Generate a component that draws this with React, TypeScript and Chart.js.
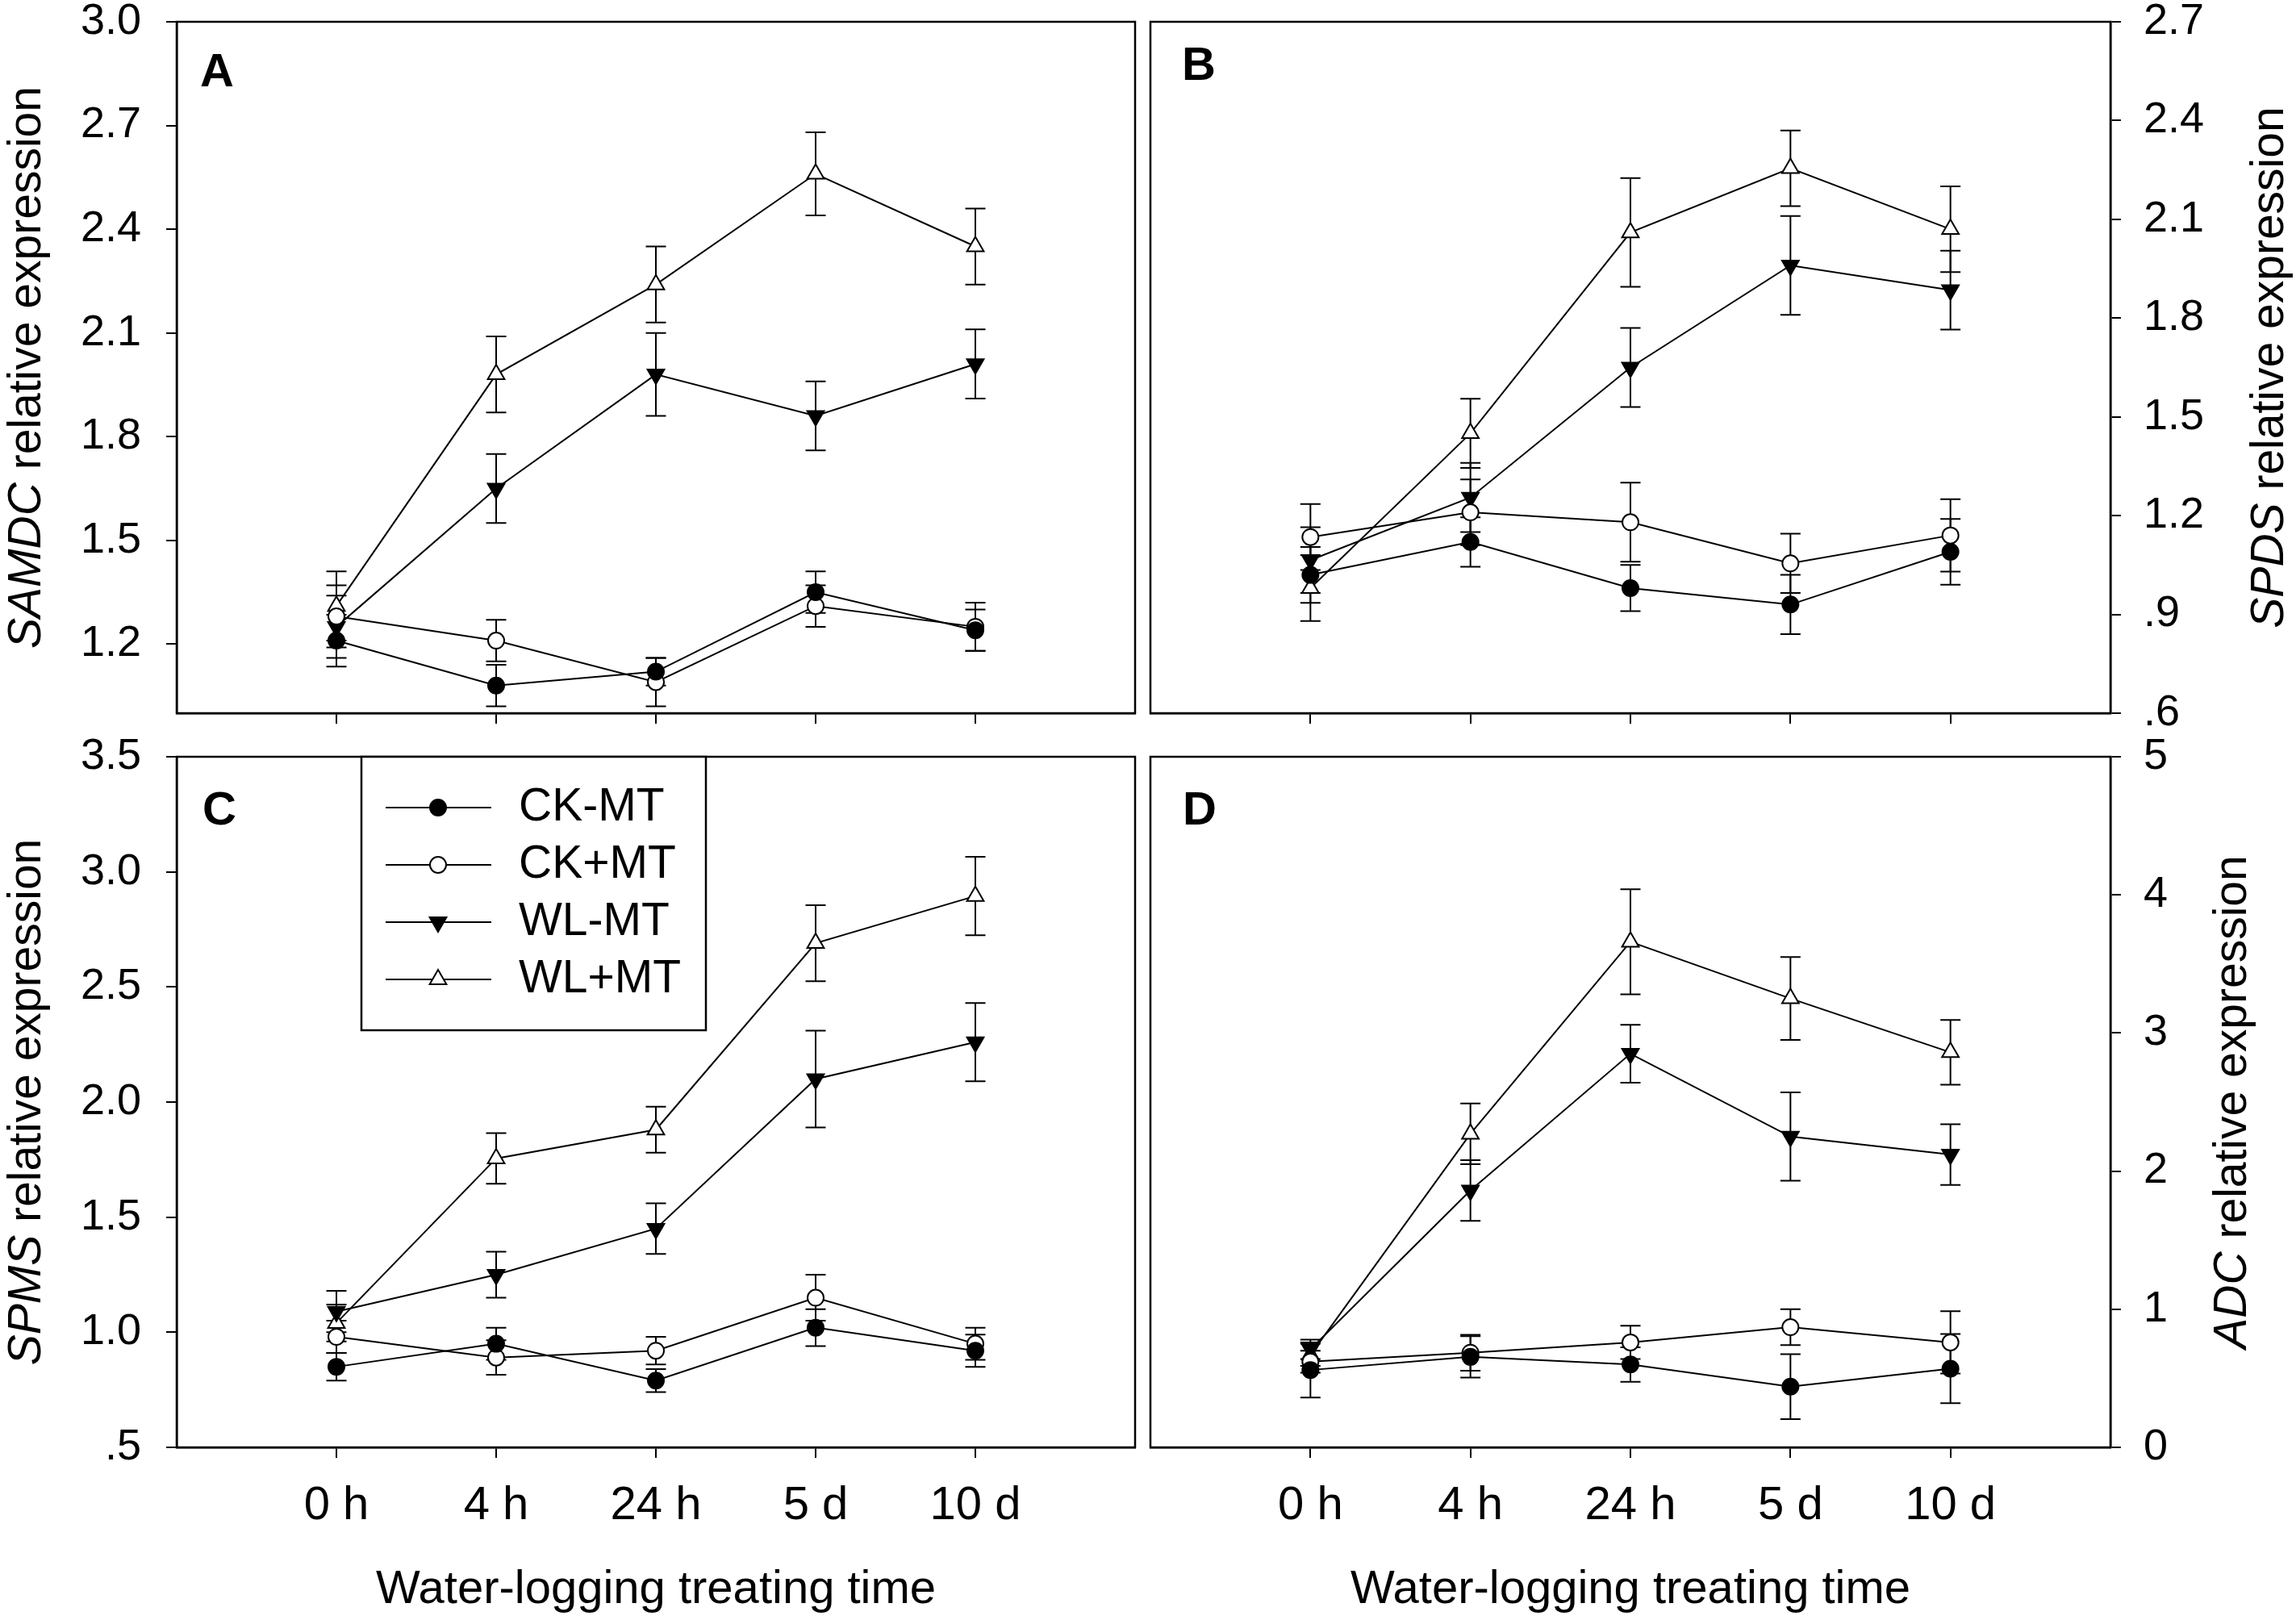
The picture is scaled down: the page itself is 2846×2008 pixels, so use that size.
import React, { useEffect, useRef } from 'react';
import { Chart, registerables } from 'chart.js';
import { drawPoint } from 'chart.js/helpers';

Chart.register(...registerables);

const FONT = '"Liberation Sans", Arial, sans-serif';

const timeLabels = ['0 h', '4 h', '24 h', '5 d', '10 d'];
const seriesNames = ['CK-MT', 'CK+MT', 'WL-MT', 'WL+MT'];

// rows follow seriesNames
const samdcMean = [
  [1.21, 1.08, 1.12, 1.35, 1.24],
  [1.28, 1.21, 1.09, 1.31, 1.25],
  [1.25, 1.65, 1.98, 1.86, 2.01],
  [1.31, 1.98, 2.24, 2.56, 2.35],
];
const samdcErr = [
  [0.075, 0.06, 0.04, 0.06, 0.06],
  [0.09, 0.06, 0.07, 0.06, 0.07],
  [0.09, 0.1, 0.12, 0.1, 0.1],
  [0.1, 0.11, 0.11, 0.12, 0.11],
];

const spdsMean = [
  [1.02, 1.12, 0.98, 0.93, 1.09],
  [1.135, 1.21, 1.18, 1.055, 1.14],
  [1.065, 1.255, 1.65, 1.96, 1.885],
  [0.98, 1.45, 2.06, 2.255, 2.07],
];
const spdsErr = [
  [0.085, 0.075, 0.07, 0.09, 0.1],
  [0.1, 0.1, 0.12, 0.09, 0.11],
  [0.1, 0.105, 0.12, 0.15, 0.12],
  [0.1, 0.105, 0.165, 0.115, 0.13],
];

const spmsMean = [
  [0.85, 0.95, 0.79, 1.02, 0.92],
  [0.98, 0.89, 0.92, 1.15, 0.95],
  [1.09, 1.25, 1.45, 2.1, 2.26],
  [1.04, 1.755, 1.88, 2.69, 2.895],
];
const spmsErr = [
  [0.06, 0.07, 0.05, 0.08, 0.07],
  [0.07, 0.075, 0.06, 0.1, 0.07],
  [0.09, 0.1, 0.11, 0.21, 0.17],
  [0.08, 0.11, 0.1, 0.165, 0.17],
];

const adcMean = [
  [0.56, 0.655, 0.6, 0.44, 0.57],
  [0.62, 0.685, 0.76, 0.87, 0.76],
  [0.71, 1.86, 2.85, 2.25, 2.12],
  [0.67, 2.27, 3.66, 3.25, 2.86],
];
const adcErr = [
  [0.2, 0.15, 0.125, 0.235, 0.25],
  [0.08, 0.13, 0.12, 0.13, 0.225],
  [0.07, 0.22, 0.21, 0.32, 0.22],
  [0.08, 0.22, 0.38, 0.3, 0.235],
];

const samdcTicks = [1.2, 1.5, 1.8, 2.1, 2.4, 2.7, 3.0];
const spdsTicks = [0.6, 0.9, 1.2, 1.5, 1.8, 2.1, 2.4, 2.7];
const spmsTicks = [0.5, 1.0, 1.5, 2.0, 2.5, 3.0, 3.5];
const adcTicks = [0, 1, 2, 3, 4, 5];

// marker look per series
const markers = [
  { pointStyle: 'circle', rotation: 0, fill: '#000', radius: 10 },
  { pointStyle: 'circle', rotation: 0, fill: '#fff', radius: 10 },
  { pointStyle: 'triangle', rotation: 180, fill: '#000', radius: 12 },
  { pointStyle: 'triangle', rotation: 0, fill: '#fff', radius: 12 },
];

const fmtTick = (v: number, dec: number) => v.toFixed(dec).replace(/^0\./, '.');

const panels = [
  {
    key: 'A', letter: 'A', gene: 'SAMDC', mean: samdcMean, err: samdcErr, ticks: samdcTicks,
    min: 1.0, max: 3.0, dec: 1, side: 'left', showX: false,
    left: 0, top: 0, w: 1417, h: 910, pad: { top: 27, right: 10, left: 0, bottom: 0 },
    yWidth: 219, xHeight: 26, letterDx: 29, letterDy: 80, titleX: 50, legend: false,
  },
  {
    key: 'B', letter: 'B', gene: 'SPDS', mean: spdsMean, err: spdsErr, ticks: spdsTicks,
    min: 0.6, max: 2.7, dec: 1, side: 'right', showX: false,
    left: 1417, top: 0, w: 1429, h: 910, pad: { top: 27, right: 0, left: 9, bottom: 0 },
    yWidth: 230, xHeight: 26, letterDx: 39, letterDy: 72, titleX: 1413, legend: false,
  },
  {
    key: 'C', letter: 'C', gene: 'SPMS', mean: spmsMean, err: spmsErr, ticks: spmsTicks,
    min: 0.5, max: 3.5, dec: 1, side: 'left', showX: true,
    left: 0, top: 910, w: 1417, h: 1098, pad: { top: 28, right: 10, left: 0, bottom: 0 },
    yWidth: 219, xHeight: 214, letterDx: 32, letterDy: 84, titleX: 50, legend: true,
  },
  {
    key: 'D', letter: 'D', gene: 'ADC', mean: adcMean, err: adcErr, ticks: adcTicks,
    min: 0, max: 5, dec: 0, side: 'right', showX: true,
    left: 1417, top: 910, w: 1429, h: 1098, pad: { top: 28, right: 0, left: 9, bottom: 0 },
    yWidth: 230, xHeight: 214, letterDx: 40, letterDy: 84, titleX: 1367, legend: false,
  },
];

type Panel = (typeof panels)[number];

const makeDecor = (p: Panel) => ({
  id: 'decor' + p.key,
  beforeDatasetsDraw(chart: any) {
    const { ctx } = chart;
    const x = chart.scales.x;
    const y = chart.scales.y;
    ctx.save();
    ctx.strokeStyle = '#000';
    ctx.lineWidth = 2;
    chart.data.datasets.forEach((ds: any) => {
      ds.data.forEach((pt: any, i: number) => {
        const e = ds.errors[i];
        const px = x.getPixelForValue(pt.x);
        const top = y.getPixelForValue(pt.y + e);
        const bot = y.getPixelForValue(pt.y - e);
        ctx.beginPath();
        ctx.moveTo(px, top);
        ctx.lineTo(px, bot);
        ctx.moveTo(px - 12.5, top);
        ctx.lineTo(px + 12.5, top);
        ctx.moveTo(px - 12.5, bot);
        ctx.lineTo(px + 12.5, bot);
        ctx.stroke();
      });
    });
    ctx.restore();
  },
  afterDraw(chart: any) {
    const { ctx, chartArea: a } = chart;
    ctx.save();
    ctx.strokeStyle = '#000';
    ctx.lineWidth = 2.5;
    ctx.strokeRect(a.left, a.top, a.right - a.left, a.bottom - a.top);

    ctx.fillStyle = '#000';
    ctx.textAlign = 'left';
    ctx.textBaseline = 'alphabetic';
    ctx.font = `bold 58px ${FONT}`;
    ctx.fillText(p.letter, a.left + p.letterDx, a.top + p.letterDy);

    // y title with italic gene name
    const rest = ' relative expression';
    const italic = `italic 57px ${FONT}`;
    const normal = `57px ${FONT}`;
    ctx.font = italic;
    const w1 = ctx.measureText(p.gene).width;
    ctx.font = normal;
    const w2 = ctx.measureText(rest).width;
    ctx.save();
    ctx.translate(p.titleX, (a.top + a.bottom) / 2);
    ctx.rotate(-Math.PI / 2);
    const start = -(w1 + w2) / 2;
    ctx.font = italic;
    ctx.fillText(p.gene, start, 0);
    ctx.font = normal;
    ctx.fillText(rest, start + w1, 0);
    ctx.restore();

    if (p.legend) {
      const bx = a.left + 229;
      const by = a.top;
      ctx.fillStyle = '#fff';
      ctx.fillRect(bx, by, 427, 339);
      ctx.strokeStyle = '#000';
      ctx.lineWidth = 2.5;
      ctx.strokeRect(bx, by, 427, 339);
      seriesNames.forEach((name, k) => {
        const ry = a.top + 63 + k * 71;
        ctx.lineWidth = 2;
        ctx.strokeStyle = '#000';
        ctx.beginPath();
        ctx.moveTo(a.left + 259, ry);
        ctx.lineTo(a.left + 390, ry);
        ctx.stroke();
        const m = markers[k];
        ctx.fillStyle = m.fill;
        drawPoint(ctx, { pointStyle: m.pointStyle, rotation: m.rotation, radius: m.radius, borderWidth: 2 } as any, a.left + 324, ry);
        ctx.fillStyle = '#000';
        ctx.font = `57px ${FONT}`;
        ctx.textBaseline = 'middle';
        ctx.fillText(name, a.left + 424, ry);
      });
    }
    ctx.restore();
  },
});

const buildConfig = (p: Panel): any => {
  const axisGrid = { drawOnChartArea: false, drawTicks: true, tickLength: 13, lineWidth: 2, color: '#000' };
  const axisBorder = { display: true, width: 2.5, color: '#000' };
  return {
    type: 'line',
    data: {
      datasets: seriesNames.map((name, k) => ({
        label: name,
        data: p.mean[k].map((v, i) => ({ x: i, y: v })),
        errors: p.err[k],
        borderColor: '#000',
        borderWidth: 2,
        backgroundColor: markers[k].fill,
        pointBackgroundColor: markers[k].fill,
        pointBorderColor: '#000',
        pointBorderWidth: 2,
        pointStyle: markers[k].pointStyle,
        pointRotation: markers[k].rotation,
        pointRadius: markers[k].radius,
        pointHoverRadius: markers[k].radius,
        tension: 0,
        fill: false,
        clip: false,
      })),
    },
    options: {
      animation: false,
      responsive: false,
      events: [],
      layout: { padding: p.pad, autoPadding: false },
      plugins: { legend: { display: false }, tooltip: { enabled: false } },
      scales: {
        x: {
          type: 'linear',
          min: -1,
          max: 5,
          afterBuildTicks: (s: any) => {
            s.ticks = timeLabels.map((_, i) => ({ value: i }));
          },
          afterFit: (s: any) => {
            s.height = p.xHeight;
            s.paddingLeft = 0;
            s.paddingRight = 0;
          },
          ticks: {
            display: p.showX,
            autoSkip: false,
            maxRotation: 0,
            padding: 25,
            color: '#000',
            font: { family: FONT, size: 58 },
            callback: (v: number) => timeLabels[v],
          },
          grid: axisGrid,
          border: axisBorder,
          title: {
            display: p.showX,
            text: 'Water-logging treating time',
            color: '#000',
            font: { family: FONT, size: 58 },
            padding: { top: 0, bottom: 2 },
          },
        },
        y: {
          type: 'linear',
          position: p.side,
          min: p.min,
          max: p.max,
          afterBuildTicks: (s: any) => {
            s.ticks = p.ticks.map((v) => ({ value: v }));
          },
          afterFit: (s: any) => {
            s.width = p.yWidth;
            s.paddingTop = 0;
            s.paddingBottom = 0;
          },
          ticks: {
            autoSkip: false,
            padding: p.side === 'left' ? 31 : 28,
            color: '#000',
            font: { family: FONT, size: 54 },
            callback: (v: number) => fmtTick(v, p.dec),
          },
          grid: axisGrid,
          border: axisBorder,
        },
      },
    },
    plugins: [makeDecor(p)],
  };
};

const PanelChart: React.FC<{ p: Panel }> = ({ p }) => {
  const canvasRef = useRef<HTMLCanvasElement>(null);

  useEffect(() => {
    if (!canvasRef.current) return;
    const chart = new Chart(canvasRef.current, buildConfig(p));
    return () => {
      chart.destroy();
    };
  }, [p]);

  return (
    <canvas
      ref={canvasRef}
      width={p.w}
      height={p.h}
      style={{ position: 'absolute', left: p.left, top: p.top, width: p.w, height: p.h }}
    />
  );
};

export default function App() {
  return (
    <div style={{ position: 'absolute', left: 0, top: 0, width: 2846, height: 2008, background: '#fff', overflow: 'hidden' }}>
      {panels.map((p) => (
        <PanelChart key={p.key} p={p} />
      ))}
    </div>
  );
}
